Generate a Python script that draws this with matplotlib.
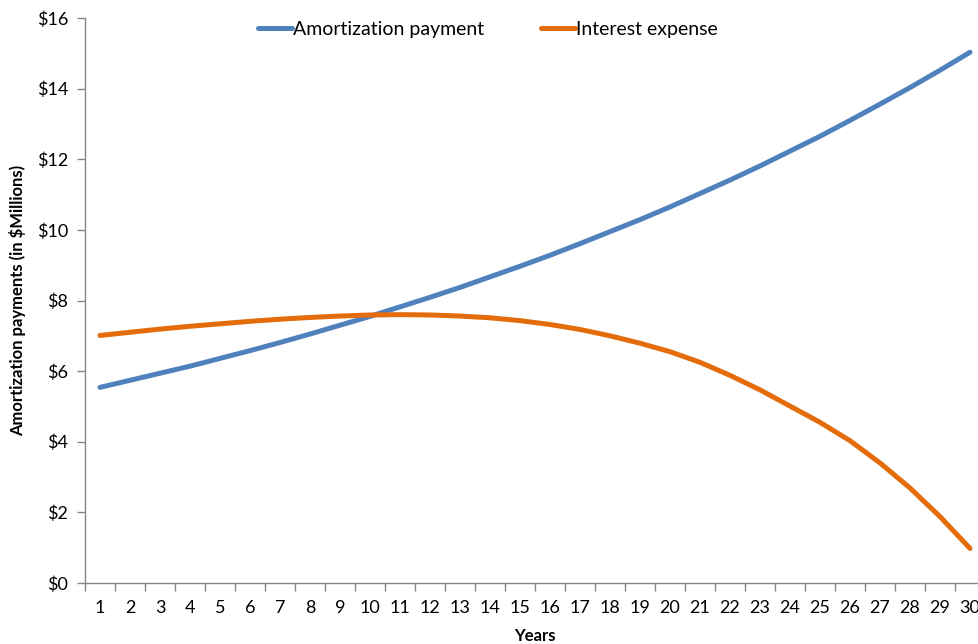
import matplotlib
matplotlib.use("Agg")
import matplotlib.pyplot as plt
import numpy as np

years = list(range(1, 31))
amortization = [5.54, 5.74, 5.94, 6.14, 6.36, 6.58, 6.81, 7.05, 7.30, 7.55,
                7.82, 8.09, 8.37, 8.67, 8.97, 9.28, 9.61, 9.95, 10.29, 10.65,
                11.03, 11.41, 11.81, 12.23, 12.65, 13.10, 13.56, 14.03, 14.52, 15.03]
interest = [7.01, 7.10, 7.19, 7.27, 7.34, 7.41, 7.47, 7.52, 7.56, 7.59,
            7.60, 7.59, 7.56, 7.51, 7.43, 7.32, 7.18, 7.00, 6.79, 6.55,
            6.25, 5.88, 5.47, 5.01, 4.55, 4.03, 3.40, 2.69, 1.88, 0.98]
y_ticks = [0, 2, 4, 6, 8, 10, 12, 14, 16]

plt.rcParams['font.family'] = ['Lato', 'DejaVu Sans']

W, H = 979, 644
fig = plt.figure(figsize=(W / 100, H / 100), dpi=100)
ax = fig.add_axes([85 / W, (H - 583) / H, 900 / W, (583 - 18) / H])

ax.plot(years, amortization, color='#4F81BD', lw=3.6, solid_capstyle='round',
        label='Amortization payment')
ax.plot(years, interest, color='#E46C0A', lw=3.6, solid_capstyle='round',
        label='Interest expense')

ax.set_xlim(0.5, 30.5)
ax.set_ylim(0, 16)
ax.set_yticks(y_ticks)
ax.set_yticklabels([f'${v}' for v in y_ticks])
ax.set_xticks(years)
ax.set_xticklabels([str(y) for y in years])
ax.set_xticks(np.arange(0.5, 31, 1), minor=True)
ax.tick_params(axis='x', which='major', length=0, pad=12, labelsize=13, colors='black')
ax.tick_params(axis='x', which='minor', length=6, width=1, color='#868686')
ax.tick_params(axis='y', length=6, width=1, color='#868686', labelsize=13, pad=6)

for s in ['top', 'right']:
    ax.spines[s].set_visible(False)
for s in ['left', 'bottom']:
    ax.spines[s].set_color('#868686')
    ax.spines[s].set_linewidth(1)

ax.set_ylabel('Amortization payments (in $Millions)', fontsize=12, fontweight='bold', labelpad=8)
ax.set_xlabel('Years', fontsize=12, fontweight='bold', labelpad=9)

leg = ax.legend(loc='center', bbox_to_anchor=(488 / W, (H - 29) / H), bbox_transform=fig.transFigure,
                ncol=2, frameon=False, handlelength=1.75, handletextpad=0.08, columnspacing=2.9,
                fontsize=14)

fig.savefig('out.png', dpi=100)
